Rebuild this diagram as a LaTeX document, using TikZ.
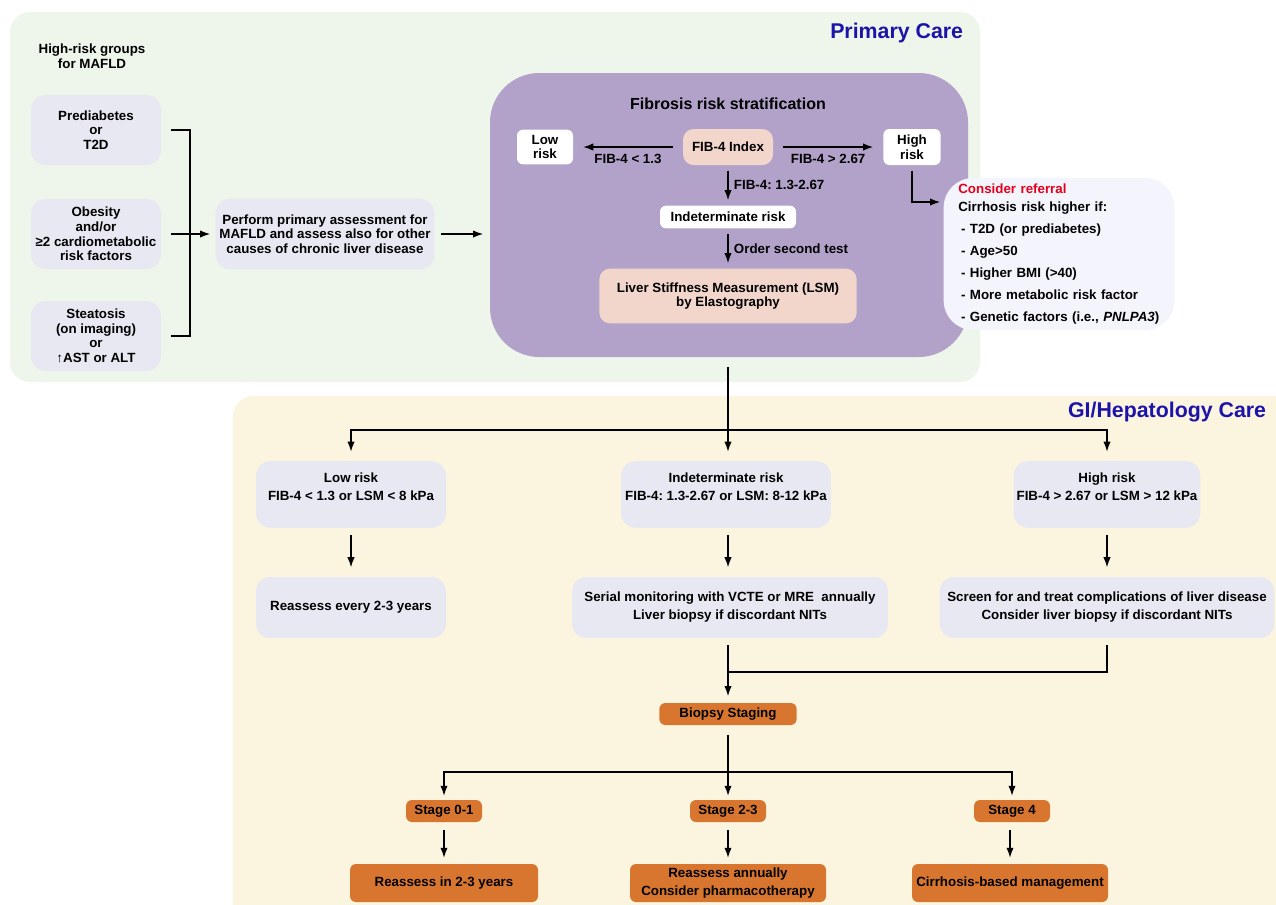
\documentclass[tikz,border=0pt]{standalone}
\usepackage{fontspec}
\setmainfont{Liberation Sans}
\frenchspacing
\usetikzlibrary{arrows.meta}

\definecolor{primarybg}{HTML}{EEF5EA}
\definecolor{gibg}{HTML}{FBF5E0}
\definecolor{boxgray}{HTML}{E8E8F2}
\definecolor{fibpurple}{HTML}{B2A2CA}
\definecolor{peach}{HTML}{F2D6CB}
\definecolor{refbg}{HTML}{F4F4FC}
\definecolor{stageorange}{HTML}{D8762F}
\definecolor{titleblue}{HTML}{1C14A8}
\definecolor{referred}{HTML}{E3001B}

\begin{document}
\begin{tikzpicture}[x=0.75pt,y=-0.75pt,
    every node/.style={font=\bfseries\fontsize{10}{11}\selectfont, align=center, inner sep=2pt},
    arr/.style={-{Latex[length=7.5pt,width=5.5pt]}, line width=0.9pt},
    link/.style={line width=0.9pt},
    leftbox/.style={fill=boxgray, rounded corners=11pt, minimum width=97.5pt, minimum height=52.5pt},
    whitebox/.style={fill=white, rounded corners=4.5pt},
    peachbox/.style={fill=peach, rounded corners=8pt},
    riskbox/.style={fill=boxgray, rounded corners=11pt, font=\bfseries\fontsize{10}{13.5}\selectfont},
    stagebox/.style={fill=stageorange, rounded corners=4.5pt, font=\bfseries\fontsize{10}{13.5}\selectfont}]

  \useasboundingbox (0,0) rectangle (1276,904);
  \clip (0,0) rectangle (1276,904);

  % panels
  \fill[primarybg, rounded corners=15pt] (10,12) rectangle (980,382);
  \fill[gibg, rounded corners=15pt] (233,396) rectangle (1300,930);

  % primary care
  \node[anchor=east, font=\bfseries\fontsize{16}{18}\selectfont, text=titleblue] (primary) at (966,33) {Primary Care};
  \node (groups) at (92,56) {High-risk groups\\for MAFLD};
  \node[leftbox] (pre) at (96,130) {Prediabetes\\or\\T2D};
  \node[leftbox] (obe) at (96,234) {Obesity\\and/or\\≥2 cardiometabolic\\risk factors};
  \node[leftbox] (ste) at (96,336) {Steatosis\\(on imaging)\\or\\↑AST or ALT};
  \node[leftbox, minimum width=164pt, minimum height=53pt] (assess) at (325,234)
    {Perform primary assessment for\\MAFLD and assess also for other\\causes of chronic liver disease};

  \coordinate (brk) at (190,336);
  \draw[link] ([xshift=7pt]pre.east) -| (brk) -- ([xshift=7pt]ste.east);
  \draw[arr, shorten >=4pt] ([xshift=7pt]obe.east) -- (assess.west);

  % fibrosis
  \node[fill=fibpurple, rounded corners=37pt, minimum width=358.5pt, minimum height=213pt] (fibbox) at (729,215) {};
  \draw[arr, shorten <=5pt, shorten >=5pt] (assess.east) -- (assess.east -| fibbox.west);
  \node[font=\bfseries\fontsize{12}{14}\selectfont] (fibtitle) at (728,104) {Fibrosis risk stratification};
  \node[whitebox, minimum width=42pt, minimum height=26pt] (low) at (545,147) {Low\\risk};
  \node[peachbox, minimum width=67.5pt, minimum height=27pt] (fib) at (728,147) {FIB-4 Index};
  \node[whitebox, minimum width=43pt, minimum height=27pt] (high) at (912,147) {High\\risk};
  \node[whitebox, minimum width=102pt, minimum height=17pt] (indet) at (728,217) {Indeterminate risk};
  \node[peachbox, minimum width=193pt, minimum height=41pt] (lsm) at (728,296) {Liver Stiffness Measurement (LSM)\\by Elastography};

  \draw[arr, shorten <=7.5pt, shorten >=7.5pt] (fib) -- (low) node[midway, below=3pt] (lowlab) {FIB-4 < 1.3};
  \draw[arr, shorten <=7.5pt, shorten >=7.5pt] (fib) -- (high) node[midway, below=3pt] (highlab) {FIB-4 > 2.67};
  \draw[arr, shorten <=4pt, shorten >=4pt] (fib) -- (indet) node[midway, right=2pt] (midlab) {FIB-4: 1.3-2.67};
  \draw[arr, shorten <=4pt, shorten >=4pt] (indet) -- (lsm) node[midway, right=2pt] (ordlab) {Order second test};

  % referral
  \node[fill=refbg, rounded corners=22pt, minimum height=114pt, text width=151pt, inner xsep=11pt,
        align=left, font=\bfseries\fontsize{10}{16.5}\selectfont] (ref) at (1059,254)
    {\textcolor{referred}{Consider referral}\\[-3pt]
     Cirrhosis risk higher if:\\
     \hspace{2pt}- T2D (or prediabetes)\\
     \hspace{2pt}- Age>50\\
     \hspace{2pt}- Higher BMI (>40)\\
     \hspace{2pt}- More metabolic risk factor\\
     \hspace{2pt}- Genetic factors (i.e., \textit{PNLPA3})};
  \coordinate (refin) at (940,202);
  \draw[arr] ([yshift=-4pt]high.south) |- (refin);

  % GI/hepatology care
  \node[anchor=east, font=\bfseries\fontsize{16}{18}\selectfont, text=titleblue] (gi) at (1269,412) {GI/Hepatology Care};
  \node[riskbox, minimum width=142.5pt, minimum height=50pt] (lowg) at (351,494.5) {Low risk\\FIB-4 < 1.3 or LSM < 8 kPa\\[-1.5pt]};
  \node[riskbox, minimum width=157.5pt, minimum height=50pt] (indg) at (726,494.5) {Indeterminate risk\\FIB-4: 1.3-2.67 or LSM: 8-12 kPa\\[-1.5pt]};
  \node[riskbox, minimum width=140pt, minimum height=50pt] (highg) at (1107,494.5) {High risk\\FIB-4 > 2.67 or LSM > 12 kPa\\[-1.5pt]};
  \node[riskbox, minimum width=142.5pt, minimum height=46pt] (lowact) at (351,607.5) {Reassess every 2-3 years};
  \node[riskbox, minimum width=237pt, minimum height=46pt] (serial) at (730,607.5) {Serial monitoring with VCTE or MRE~ annually\\Liver biopsy if discordant NITs};
  \node[riskbox, minimum width=251pt, minimum height=46pt] (screen) at (1107,607.5) {Screen for and treat complications of liver disease\\Consider liver biopsy if discordant NITs};

  \coordinate (split) at (728,430);
  \draw[arr, shorten <=7pt, shorten >=7pt] (fibbox.south -| split) -- (indg.north -| split);
  \draw[arr, shorten >=7pt] (split) -| (lowg.north);
  \draw[arr, shorten >=7pt] (split) -| (highg.north);
  \draw[arr, shorten <=5pt, shorten >=7pt] (lowg) -- (lowact);
  \draw[arr, shorten <=5pt, shorten >=7pt] (indg.south -| split) -- (serial.north -| split);
  \draw[arr, shorten <=5pt, shorten >=7pt] (highg) -- (screen);

  % biopsy staging
  \node[stagebox, minimum width=103pt, minimum height=16.5pt] (biopsy) at (728,714) {Biopsy Staging};
  \coordinate (merge) at (728,672);
  \draw[link, shorten <=5pt] (serial.south -| merge) -- (merge);
  \draw[link, shorten <=5pt] (screen.south) |- (merge);
  \draw[arr, shorten >=5pt] (merge) -- (biopsy.north);

  \node[stagebox, minimum width=57pt, minimum height=16.5pt] (s01) at (444,811) {Stage 0-1};
  \node[stagebox, minimum width=57pt, minimum height=16.5pt] (s23) at (728,811) {Stage 2-3};
  \node[stagebox, minimum width=57pt, minimum height=16.5pt] (s4) at (1012,811) {Stage 4};
  \coordinate (split2) at (728,772);
  \draw[arr, shorten <=7pt, shorten >=3pt] (biopsy) -- (s23);
  \draw[arr, shorten >=3pt] (split2) -| (s01.north);
  \draw[arr, shorten >=3pt] (split2) -| (s4.north);

  \node[stagebox, minimum width=141pt, minimum height=28.5pt] (s01act) at (444,883) {Reassess in 2-3 years};
  \node[stagebox, minimum width=147pt, minimum height=28.5pt] (s23act) at (728,883) {Reassess annually\\Consider pharmacotherapy};
  \node[stagebox, minimum width=147pt, minimum height=28.5pt] (s4act) at (1010,883) {Cirrhosis-based management};
  \draw[arr, shorten <=6pt, shorten >=4.5pt] (s01) -- (s01act);
  \draw[arr, shorten <=6pt, shorten >=4.5pt] (s23) -- (s23act);
  \draw[arr, shorten <=6pt, shorten >=4.5pt] (s4.south -| s4act) -- (s4act);
\end{tikzpicture}
\end{document}
